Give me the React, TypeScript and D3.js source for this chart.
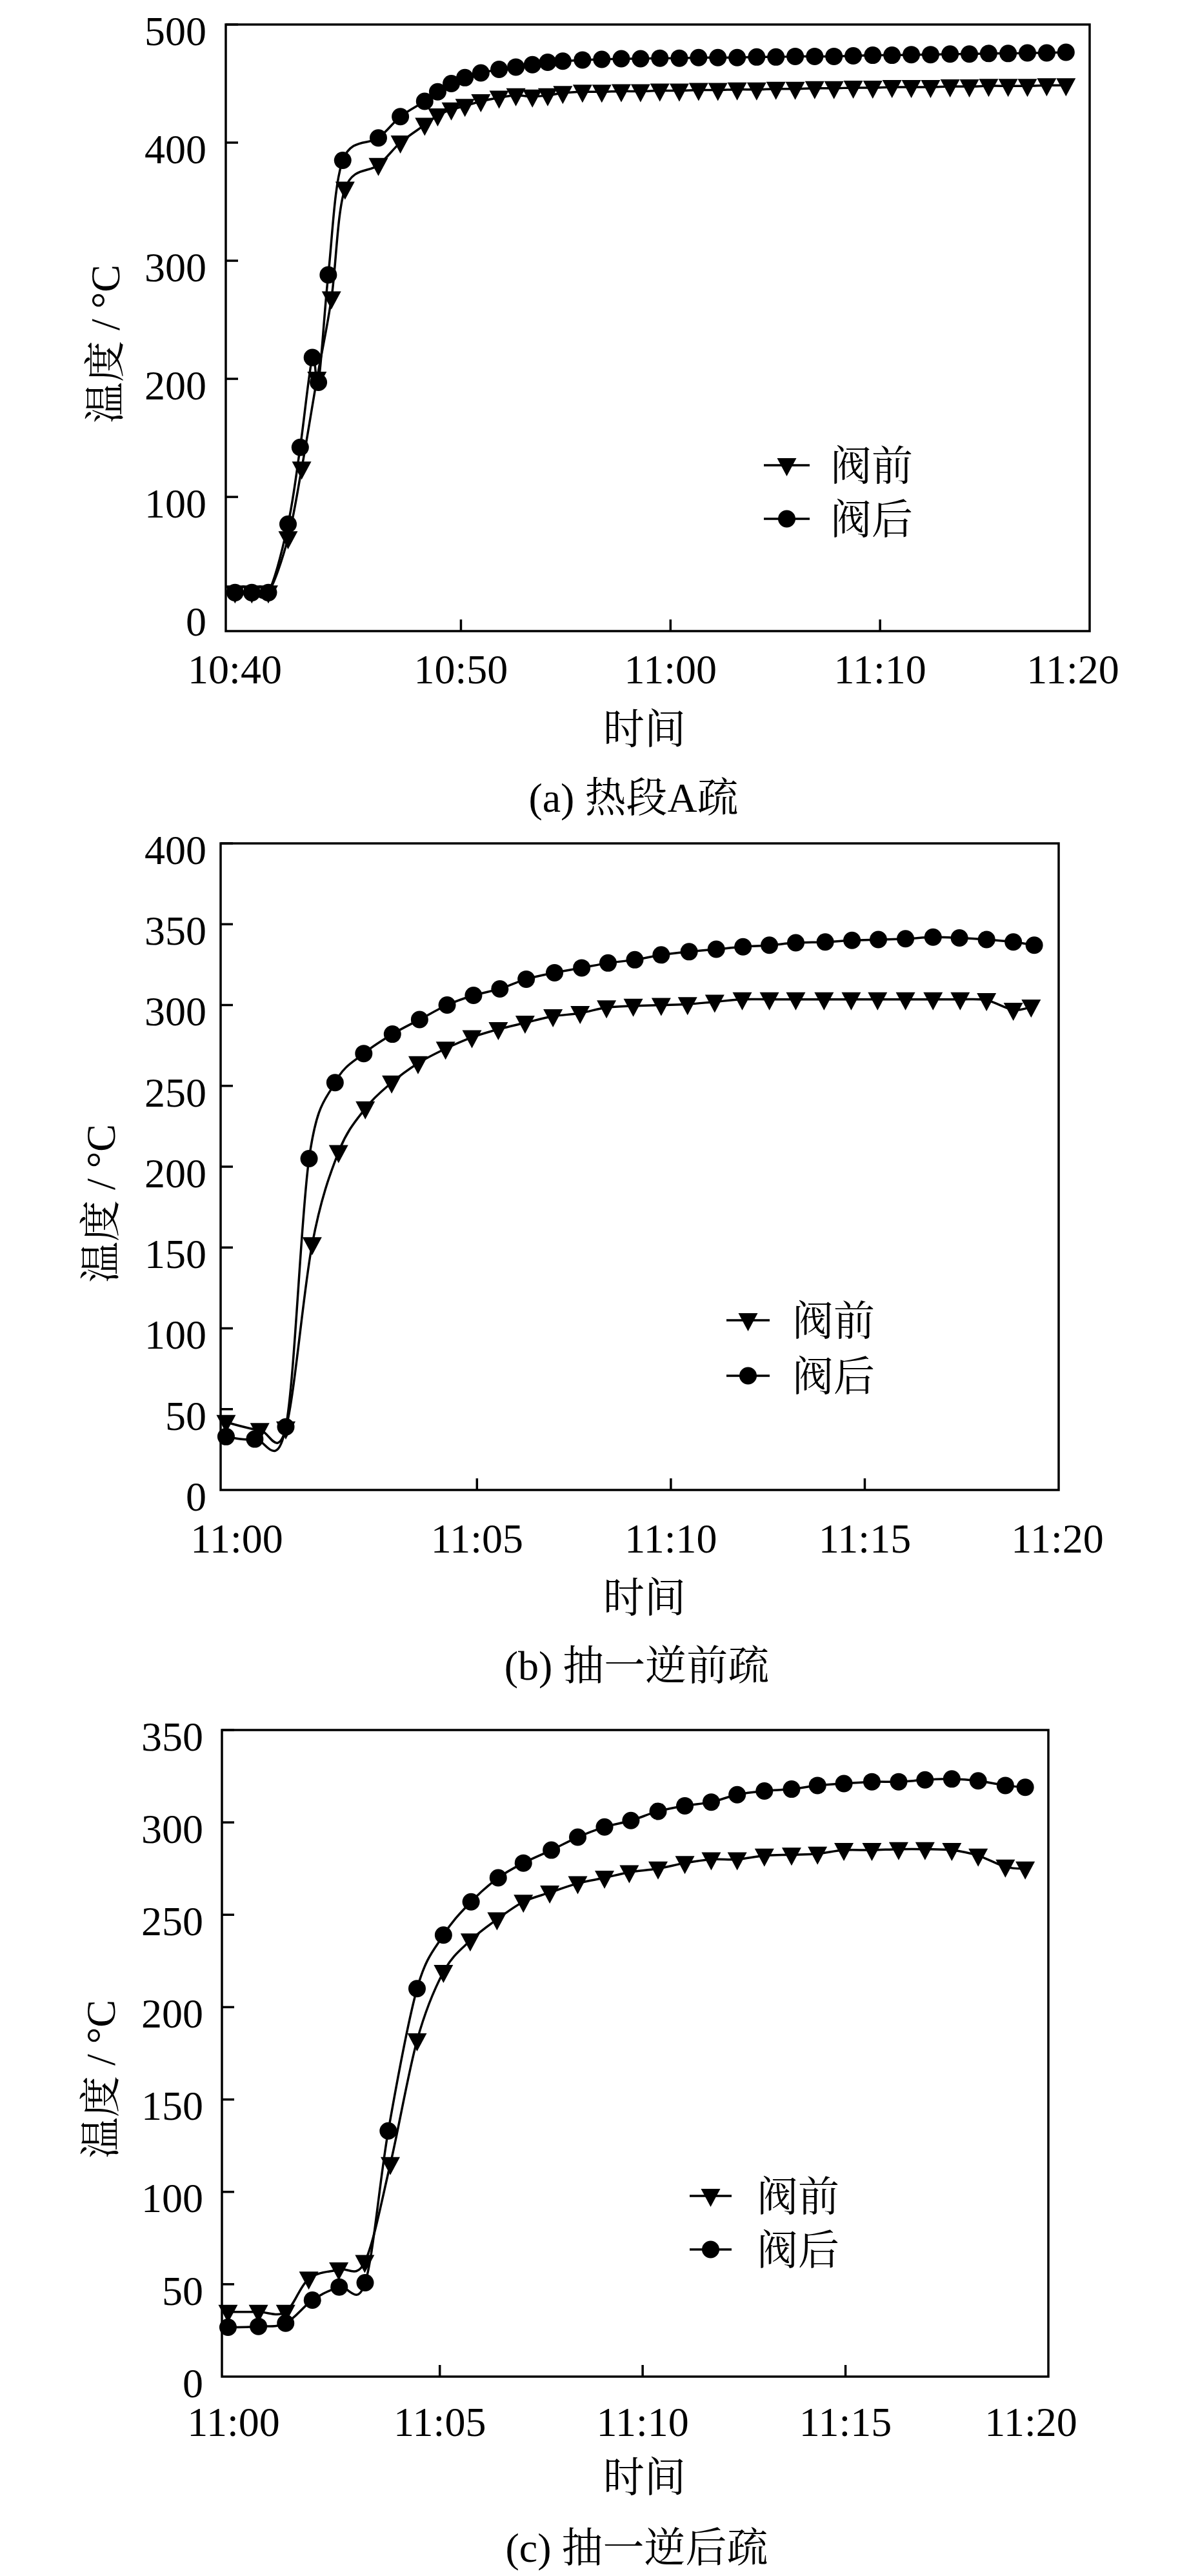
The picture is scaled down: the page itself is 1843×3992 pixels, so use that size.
import * as d3 from "d3";

const FONT =
  '"Liberation Serif", "Times New Roman", "Noto Serif CJK SC", "Noto Sans CJK SC", serif';
const FS = 64;

// time in minutes after the first tick label (10:40 for a, 11:00 for b and c)

// (a) 热段A疏
const aTickLabels = ["10:40", "10:50", "11:00", "11:10", "11:20"];
const aTickMinutes = [0, 10, 20, 30, 40];
const aYTicks = [0, 100, 200, 300, 400, 500];
const aAfterTime = [
  -0.78, 0.02, 0.81, 1.75, 2.33, 2.91, 3.2, 3.67, 4.36, 6.06, 7.11, 8.27, 8.89,
  9.54, 10.19, 10.95, 11.82, 12.62, 13.41, 14.14, 14.86, 15.8, 16.72, 17.65,
  18.57, 19.49, 20.42, 21.34, 22.26, 23.18, 24.11, 25.03, 25.95, 26.88, 27.8,
  28.72, 29.65, 30.57, 31.49, 32.41, 33.34, 34.26, 35.18, 36.11, 37.03, 37.95,
  38.87,
];
const aAfterTemp = [
  19, 19, 19, 77, 142, 218, 197, 288, 385, 404, 422, 435, 443, 450, 455, 459,
  462, 464, 466, 468, 469, 470, 470.5, 471, 471, 471.5, 471.5, 472, 472, 472,
  472.5, 472.5, 473, 473, 473, 473.5, 474, 474, 474.5, 474.5, 475, 475, 475.5,
  475.5, 476, 476, 476.5,
];
const aBeforeTime = [
  -0.78, 0.02, 0.81, 1.75, 2.4, 3.13, 3.82, 4.47, 6.06, 7.11, 8.27, 8.89, 9.54,
  10.19, 10.95, 11.82, 12.62, 13.41, 14.14, 14.86, 15.8, 16.72, 17.65, 18.57,
  19.49, 20.42, 21.34, 22.26, 23.18, 24.11, 25.03, 25.95, 26.88, 27.8, 28.72,
  29.65, 30.57, 31.49, 32.41, 33.34, 34.26, 35.18, 36.11, 37.03, 37.95, 38.87,
];
const aBeforeTemp = [
  19, 19, 19, 65, 124, 200, 268, 361, 381, 400, 415, 423, 428, 431, 435, 438,
  440, 439, 440, 442, 443, 443, 443.5, 443.5, 444, 444, 444.5, 444.5, 445, 445,
  445.5, 445.5, 446, 446, 446.5, 446.5, 447, 447, 447, 447.5, 447.5, 448, 448,
  448, 448.5, 448.5,
];

// (b) 抽一逆前疏
const bTickLabels = ["11:00", "11:05", "11:10", "11:15", "11:20"];
const bTickMinutes = [0, 5, 10, 15, 20];
const bYTicks = [0, 50, 100, 150, 200, 250, 300, 350, 400];
const bAfterTime = [
  -1.47, -0.73, 0.07, 0.67, 1.34, 2.08, 2.82, 3.52, 4.23, 4.91, 5.59, 6.27, 7.0,
  7.7, 8.38, 9.07, 9.75, 10.47, 11.17, 11.86, 12.54, 13.22, 13.98, 14.67, 15.35,
  16.05, 16.76, 17.44, 18.14, 18.83, 19.37,
];
const bAfterTemp = [
  33, 31.5, 39, 205, 252, 270, 282, 291, 300, 306, 310, 316, 320, 323, 326, 328,
  331, 333, 334.5, 336, 337, 338.5, 339, 340, 340.5, 341, 342, 341.5, 340.5,
  339, 337,
];
const bBeforeTime = [
  -1.47, -0.6, 0.07, 0.75, 1.43, 2.12, 2.8, 3.48, 4.19, 4.87, 5.55, 6.24, 6.96,
  7.66, 8.34, 9.03, 9.75, 10.43, 11.13, 11.84, 12.54, 13.22, 13.95, 14.65,
  15.33, 16.05, 16.76, 17.46, 18.14, 18.83, 19.29,
];
const bBeforeTemp = [
  42, 37, 38, 152, 209, 236, 252, 264, 273, 280, 285, 289, 293, 295, 298.5,
  299.5, 300, 300.5, 302, 303.5, 303.5, 303.5, 303.5, 303.5, 303.5, 303.5,
  303.5, 303.5, 303, 297, 299,
];

// (c) 抽一逆后疏
const cTickLabels = ["11:00", "11:05", "11:10", "11:15", "11:20"];
const cTickMinutes = [0, 5, 10, 15, 20];
const cYTicks = [0, 50, 100, 150, 200, 250, 300, 350];
const cAfterTime = [
  -0.22, 0.53, 1.2, 1.86, 2.52, 3.16, 3.73, 4.44, 5.09, 5.77, 6.44, 7.06, 7.75,
  8.4, 9.06, 9.71, 10.38, 11.04, 11.69, 12.33, 13.0, 13.67, 14.31, 14.96, 15.65,
  16.31, 16.96, 17.62, 18.27, 18.94, 19.43,
];
const cAfterTemp = [
  26.7, 27.2, 28.9, 41.4, 48.5, 50.8, 133, 210, 239, 257, 270, 278, 285, 292,
  297.5, 301, 306, 309, 311, 315, 317, 318, 320, 321, 322, 322, 323, 323.5,
  322.5, 320, 319,
];
const cBeforeTime = [
  -0.22, 0.53, 1.2, 1.77, 2.51, 3.15, 3.78, 4.44, 5.09, 5.75, 6.41, 7.06, 7.71,
  8.4, 9.06, 9.67, 10.38, 11.04, 11.69, 12.33, 13.0, 13.67, 14.31, 14.96, 15.65,
  16.31, 16.96, 17.62, 18.27, 18.94, 19.43,
];
const cBeforeTemp = [
  35, 35, 35, 53, 58, 62, 115, 182, 219, 236, 247.5, 257, 262, 267, 270, 273,
  275, 278, 280, 280, 282, 282.5, 283, 285, 285, 285.5, 285.5, 285, 282, 276,
  275,
];

const seriesNames = ["阀前", "阀后"];
const yTitle = "温度 / °C";
const xTitle = "时间";

const zip = (t: number[], v: number[]): [number, number][] =>
  t.map((d, i) => [d, v[i]]);

interface PanelCfg {
  caption: string;
  tickLabels: string[];
  tickMinutes: number[];
  yTicks: number[];
  before: [number, number][];
  after: [number, number][];
  xDomain: [number, number];
  yDomain: [number, number];
  left: number;
  right: number;
  top: number;
  bottom: number;
  padL: number; // first x label pushed inside
  padR: number; // last x label pushed inside
  yLabelGap: number;
  xLabelY: number;
  yTitleX: number;
  yTitleY: number;
  xTitleY: number;
  captionY: number;
  captionX: number;
  legendX0: number;
  legendX1: number;
  legendTextX: number;
  legendY: [number, number];
}

const panels: PanelCfg[] = [
  {
    caption: "(a) 热段A疏",
    tickLabels: aTickLabels,
    tickMinutes: aTickMinutes,
    yTicks: aYTicks,
    before: zip(aBeforeTime, aBeforeTemp),
    after: zip(aAfterTime, aAfterTemp),
    xDomain: [-1.22, 40],
    yDomain: [-13.6, 500],
    left: 350,
    right: 1689,
    top: 38,
    bottom: 978,
    padL: 14,
    padR: 26,
    yLabelGap: 30,
    xLabelY: 1037,
    yTitleX: 162,
    yTitleY: 533,
    xTitleY: 1129,
    captionY: 1235,
    captionX: 982,
    legendX0: 1184,
    legendX1: 1255,
    legendTextX: 1287,
    legendY: [721, 804],
  },
  {
    caption: "(b) 抽一逆前疏",
    tickLabels: bTickLabels,
    tickMinutes: bTickMinutes,
    yTicks: bYTicks,
    before: zip(bBeforeTime, bBeforeTemp),
    after: zip(bAfterTime, bAfterTemp),
    xDomain: [-1.61, 20],
    yDomain: [0, 400],
    left: 342,
    right: 1641,
    top: 1307,
    bottom: 2309,
    padL: 25,
    padR: 2,
    yLabelGap: 22,
    xLabelY: 2384,
    yTitleX: 155,
    yTitleY: 1865,
    xTitleY: 2475,
    captionY: 2580,
    captionX: 987,
    legendX0: 1126,
    legendX1: 1193,
    legendTextX: 1228,
    legendY: [2046, 2132],
  },
  {
    caption: "(c) 抽一逆后疏",
    tickLabels: cTickLabels,
    tickMinutes: cTickMinutes,
    yTicks: cYTicks,
    before: zip(cBeforeTime, cBeforeTemp),
    after: zip(cAfterTime, cAfterTemp),
    xDomain: [-0.37, 20],
    yDomain: [0, 350],
    left: 344,
    right: 1625,
    top: 2681,
    bottom: 3683,
    padL: 18,
    padR: 27,
    yLabelGap: 29,
    xLabelY: 3753,
    yTitleX: 155,
    yTitleY: 3222,
    xTitleY: 3838,
    captionY: 3947,
    captionX: 987,
    legendX0: 1069,
    legendX1: 1134,
    legendTextX: 1173,
    legendY: [3403, 3486],
  },
];

const R = 13.5;
const triangle = (x: number, y: number) =>
  `M${x - 15},${y - 11}L${x + 15},${y - 11}L${x},${y + 17}Z`;

function Panel({ cfg }: { cfg: PanelCfg }) {
  const x = d3.scaleLinear().domain(cfg.xDomain).range([cfg.left, cfg.right]);
  const y = d3.scaleLinear().domain(cfg.yDomain).range([cfg.bottom, cfg.top]);
  const line = d3
    .line<[number, number]>()
    .x((d) => x(d[0]))
    .y((d) => y(d[1]))
    .curve(d3.curveCatmullRom.alpha(0));

  const n = cfg.tickLabels.length;
  const labelX = (i: number) => {
    if (i === 0) return cfg.left + cfg.padL;
    if (i === n - 1) return cfg.right - cfg.padR;
    return x(cfg.tickMinutes[i]);
  };

  return (
    <g>
      {/* series: 阀前 first, 阀后 on top */}
      <path d={line(cfg.before) as string} fill="none" stroke="#000" strokeWidth={3.5} />
      {cfg.before.map((d, i) => (
        <path key={"b" + i} d={triangle(x(d[0]), y(d[1]))} fill="#000" />
      ))}
      <path d={line(cfg.after) as string} fill="none" stroke="#000" strokeWidth={3.5} />
      {cfg.after.map((d, i) => (
        <circle key={"a" + i} cx={x(d[0])} cy={y(d[1])} r={R} fill="#000" />
      ))}

      {/* frame */}
      <rect
        x={cfg.left}
        y={cfg.top}
        width={cfg.right - cfg.left}
        height={cfg.bottom - cfg.top}
        fill="none"
        stroke="#000"
        strokeWidth={3.5}
      />

      {/* y axis */}
      {cfg.yTicks.map((v) => (
        <g key={"y" + v}>
          {v !== 0 && (
            <line
              x1={cfg.left}
              x2={cfg.left + 19}
              y1={y(v)}
              y2={y(v)}
              stroke="#000"
              strokeWidth={3.5}
            />
          )}
          <text
            x={cfg.left - cfg.yLabelGap}
            y={y(v) + 10 + FS * 0.34}
            textAnchor="end"
            fontSize={FS}
            fontFamily={FONT}
          >
            {v}
          </text>
        </g>
      ))}

      {/* x axis */}
      {cfg.tickLabels.map((lab, i) => (
        <g key={"x" + lab}>
          {i > 0 && i < n - 1 && (
            <line
              x1={x(cfg.tickMinutes[i])}
              x2={x(cfg.tickMinutes[i])}
              y1={cfg.bottom}
              y2={cfg.bottom - 18}
              stroke="#000"
              strokeWidth={3.5}
            />
          )}
          <text
            x={labelX(i)}
            y={cfg.xLabelY + FS * 0.34}
            textAnchor="middle"
            fontSize={FS}
            fontFamily={FONT}
          >
            {lab}
          </text>
        </g>
      ))}

      {/* titles */}
      <text
        transform={`translate(${cfg.yTitleX},${cfg.yTitleY}) rotate(-90)`}
        y={FS * 0.36}
        textAnchor="middle"
        fontSize={FS}
        fontFamily={FONT}
      >
        {yTitle}
      </text>
      <text
        x={999}
        y={cfg.xTitleY + FS * 0.36}
        textAnchor="middle"
        fontSize={FS}
        fontFamily={FONT}
      >
        {xTitle}
      </text>
      <text
        x={cfg.captionX}
        y={cfg.captionY + FS * 0.36}
        textAnchor="middle"
        fontSize={FS}
        fontFamily={FONT}
      >
        {cfg.caption}
      </text>

      {/* legend */}
      {seriesNames.map((name, i) => {
        const ly = cfg.legendY[i];
        const mx = (cfg.legendX0 + cfg.legendX1) / 2;
        return (
          <g key={name}>
            <line
              x1={cfg.legendX0}
              x2={cfg.legendX1}
              y1={ly}
              y2={ly}
              stroke="#000"
              strokeWidth={3.5}
            />
            {i === 0 ? (
              <path d={triangle(mx, ly)} fill="#000" />
            ) : (
              <circle cx={mx} cy={ly} r={R} fill="#000" />
            )}
            <text
              x={cfg.legendTextX}
              y={ly + FS * 0.36}
              fontSize={FS}
              fontFamily={FONT}
            >
              {name}
            </text>
          </g>
        );
      })}
    </g>
  );
}

export default function App() {
  return (
    <svg
      width={1843}
      height={3992}
      style={{ position: "absolute", left: 0, top: 0, background: "#fff" }}
    >
      <rect width={1843} height={3992} fill="#fff" />
      {panels.map((p) => (
        <Panel key={p.caption} cfg={p} />
      ))}
    </svg>
  );
}
